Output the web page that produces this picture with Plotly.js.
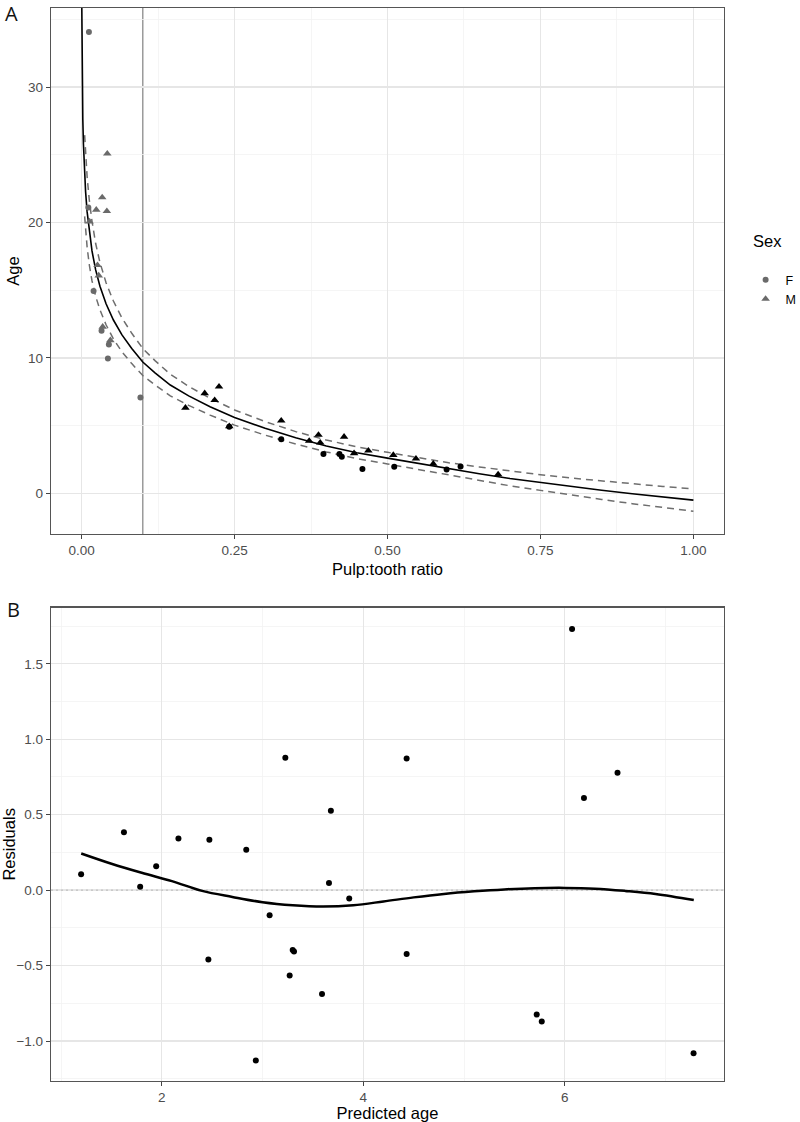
<!DOCTYPE html>
<html><head><meta charset="utf-8">
<script src="https://cdn.plot.ly/plotly-3.0.1.min.js"></script>
<style>html,body{margin:0;padding:0;background:#fff}#chart{width:800px;height:1122px}</style>
</head><body><div id="chart"></div>
<script>
// ---------- Panel A: observed data ----------
const femaleRatio = [0.012, 0.011, 0.0196, 0.0326, 0.0446, 0.043, 0.0962, 0.2414, 0.3263, 0.3953, 0.4214, 0.4253, 0.459, 0.511, 0.5966, 0.6194];
const femaleAge   = [34.07, 21.1, 14.95, 12.0, 11.0, 9.95, 7.07, 4.92, 3.99, 2.9, 2.9, 2.71, 1.8, 1.97, 1.77, 1.99];
const maleRatio = [0.042, 0.0337, 0.024, 0.0413, 0.013, 0.026, 0.028, 0.0345, 0.047, 0.1697, 0.2012, 0.2246, 0.2175, 0.2414, 0.3263, 0.372, 0.3872, 0.39, 0.429, 0.4454, 0.4687, 0.5095, 0.5465, 0.5748, 0.6808];
const maleAge   = [25.08, 21.85, 20.94, 20.84, 20.07, 16.85, 16.08, 12.3, 11.3, 6.32, 7.39, 7.88, 6.88, 4.95, 5.37, 3.87, 4.31, 3.74, 4.18, 2.96, 3.15, 2.83, 2.56, 2.18, 1.4];
const ratioCutoff = 0.1;

// fitted curve
const fitRatio = [0.0003, 0.0006, 0.001, 0.0015, 0.002, 0.003, 0.0045, 0.0065, 0.009, 0.0125, 0.017, 0.023, 0.03, 0.04, 0.052, 0.066, 0.082, 0.1, 0.12, 0.145, 0.175, 0.21, 0.25, 0.3, 0.35, 0.4, 0.45, 0.5, 0.55, 0.6, 0.65, 0.7, 0.75, 0.8, 0.85, 0.9, 0.95, 1.0];
const fitAge   = [36.2, 33.0, 30.7, 28.9, 27.6, 25.8, 23.9, 22.3, 20.8, 19.3, 17.9, 16.5, 15.3, 14.0, 12.8, 11.7, 10.7, 9.7, 8.9, 8.0, 7.2, 6.4, 5.6, 4.8, 4.1, 3.5, 3.0, 2.6, 2.2, 1.8, 1.45, 1.1, 0.8, 0.5, 0.23, -0.03, -0.27, -0.5];

// confidence band
const ciRatio = [0.005, 0.0065, 0.009, 0.0125, 0.017, 0.023, 0.03, 0.04, 0.052, 0.066, 0.082, 0.1, 0.12, 0.145, 0.175, 0.21, 0.25, 0.3, 0.35, 0.4, 0.45, 0.5, 0.55, 0.6, 0.65, 0.7, 0.75, 0.8, 0.85, 0.9, 0.95, 1.0];
const ciUpper = [26.45, 25.15, 23.4, 21.7, 20.1, 18.45, 17.05, 15.55, 14.2, 12.95, 11.82, 10.7, 9.8, 8.8, 7.9, 7.02, 6.16, 5.3, 4.56, 3.94, 3.43, 3.03, 2.64, 2.26, 1.95, 1.64, 1.38, 1.13, 0.91, 0.70, 0.51, 0.32];
const ciLower = [20.45, 19.45, 18.2, 16.9, 15.7, 14.55, 13.55, 12.45, 11.4, 10.45, 9.58, 8.7, 8.0, 7.2, 6.5, 5.78, 5.04, 4.3, 3.64, 3.06, 2.57, 2.17, 1.76, 1.34, 0.95, 0.56, 0.22, -0.13, -0.45, -0.76, -1.05, -1.32];

// ---------- Panel B: residuals ----------
const predictedAge = [1.199, 1.624, 1.785, 1.944, 2.165, 2.462, 2.472, 2.838, 2.933, 3.07, 3.226, 3.269, 3.299, 3.312, 3.59, 3.659, 3.678, 3.86, 4.43, 4.43, 5.721, 5.771, 6.072, 6.19, 6.523, 7.278];
const residuals    = [0.106, 0.383, 0.022, 0.159, 0.343, -0.46, 0.334, 0.267, -1.129, -0.166, 0.877, -0.566, -0.396, -0.407, -0.688, 0.048, 0.526, -0.055, 0.873, -0.424, -0.825, -0.871, 1.731, 0.61, 0.778, -1.081];
const smoothPred  = [1.2, 1.5, 1.8, 2.1, 2.4, 2.7, 3.0, 3.3, 3.6, 3.9, 4.2, 4.5, 4.8, 5.1, 5.4, 5.7, 6.0, 6.3, 6.6, 6.9, 7.28];
const smoothResid = [0.243, 0.175, 0.115, 0.06, -0.005, -0.045, -0.08, -0.1, -0.108, -0.1, -0.075, -0.048, -0.025, -0.008, 0.005, 0.013, 0.015, 0.01, -0.005, -0.025, -0.066];
const residualRef = 0;

// axis ranges (ggplot-style 5% expansion)
const rangeRatio = [-0.05, 1.05], rangeAge = [-3.0, 35.84];
const rangePred = [0.9, 7.58], rangeResid = [-1.265, 1.872];

const GREY = '#6a6a6a', BLACK = '#000000';
const FONT = 'Liberation Sans, Arial, sans-serif';
const colorFor = r => r.map(v => v < ratioCutoff ? GREY : BLACK);

const traces = [
  {x: ciRatio, y: ciUpper, type: 'scatter', mode: 'lines', line: {color: '#6e6e6e', width: 1.5, dash: '7px,5px'}, showlegend: false, xaxis: 'x', yaxis: 'y', hoverinfo: 'skip'},
  {x: ciRatio, y: ciLower, type: 'scatter', mode: 'lines', line: {color: '#6e6e6e', width: 1.5, dash: '7px,5px'}, showlegend: false, xaxis: 'x', yaxis: 'y', hoverinfo: 'skip'},
  {x: fitRatio, y: fitAge, type: 'scatter', mode: 'lines', line: {color: '#000', width: 1.6}, showlegend: false, xaxis: 'x', yaxis: 'y'},
  {x: femaleRatio, y: femaleAge, name: 'F', type: 'scatter', mode: 'markers',
   marker: {symbol: 'circle', size: 6, color: colorFor(femaleRatio)}, xaxis: 'x', yaxis: 'y'},
  {x: maleRatio, y: maleAge, name: 'M', type: 'scatter', mode: 'markers',
   marker: {symbol: 'triangle-up', size: 7.5, color: colorFor(maleRatio)}, xaxis: 'x', yaxis: 'y'},
  {x: rangePred, y: rangePred.map(() => residualRef), type: 'scatter', mode: 'lines', line: {color: '#b8b8b8', width: 1, dash: '2px,3px'}, showlegend: false, xaxis: 'x2', yaxis: 'y2', hoverinfo: 'skip'},
  {x: predictedAge, y: residuals, type: 'scatter', mode: 'markers', marker: {color: '#000', size: 6}, showlegend: false, xaxis: 'x2', yaxis: 'y2'},
  {x: smoothPred, y: smoothResid, type: 'scatter', mode: 'lines', line: {color: '#000', width: 2.5, shape: 'spline'}, showlegend: false, xaxis: 'x2', yaxis: 'y2'}
];

const gridMajor = '#e6e6e6', gridMinor = '#f2f2f2';
const axisCommon = {
  showline: true, mirror: true, linecolor: '#555', linewidth: 1.2,
  ticks: 'outside', ticklen: 4, tickwidth: 1, tickcolor: '#444',
  tickfont: {family: FONT, size: 13.5, color: '#4d4d4d'},
  showgrid: true, gridcolor: gridMajor, gridwidth: 1.3, zeroline: false
};
const titleFont = {family: FONT, size: 16.5, color: '#000'};

const layout = {
  width: 800, height: 1122,
  margin: {l: 51, r: 76, t: 8, b: 41},
  paper_bgcolor: '#fff', plot_bgcolor: '#fff',
  font: {family: FONT},
  xaxis: Object.assign({}, axisCommon, {
    domain: [0, 1], anchor: 'y', range: rangeRatio, tickvals: [0, 0.25, 0.5, 0.75, 1], tickformat: '.2f',
    minor: {dtick: 0.125, tick0: 0, showgrid: true, gridcolor: gridMinor, gridwidth: 0.8},
    title: {text: 'Pulp:tooth ratio', font: titleFont, standoff: 6}
  }),
  yaxis: Object.assign({}, axisCommon, {
    domain: [0.5098, 1], anchor: 'x', range: rangeAge, tickvals: [0, 10, 20, 30],
    minor: {dtick: 5, tick0: 0, showgrid: true, gridcolor: gridMinor, gridwidth: 0.8},
    title: {text: 'Age', font: titleFont, standoff: 4}
  }),
  xaxis2: Object.assign({}, axisCommon, {
    domain: [0, 1], anchor: 'y2', range: rangePred, tickvals: [2, 4, 6],
    minor: {dtick: 1, tick0: 0, showgrid: true, gridcolor: gridMinor, gridwidth: 0.8},
    title: {text: 'Predicted age', font: titleFont, standoff: 4}
  }),
  yaxis2: Object.assign({}, axisCommon, {
    domain: [0, 0.4411], anchor: 'x2', range: rangeResid, tickvals: [-1, -0.5, 0, 0.5, 1, 1.5], tickformat: '.1f',
    minor: {dtick: 0.25, tick0: 0, showgrid: true, gridcolor: gridMinor, gridwidth: 0.8},
    title: {text: 'Residuals', font: titleFont, standoff: 4}
  }),
  showlegend: true,
  legend: {
    xref: 'container', yref: 'container',
    x: 0.932, xanchor: 'left', y: 0.7638, yanchor: 'top',
    font: {family: FONT, size: 12.5, color: '#000'},
    bgcolor: 'rgba(0,0,0,0)', tracegroupgap: 0
  },
  shapes: [
    {type: 'line', layer: 'below', xref: 'x', yref: 'y', x0: ratioCutoff, x1: ratioCutoff, y0: rangeAge[0], y1: rangeAge[1], line: {color: '#9a9a9a', width: 1.5}}
  ],
  annotations: [
    {text: 'Sex', xref: 'paper', yref: 'paper', x: 1.040, y: 0.7831, xanchor: 'left', yanchor: 'middle', showarrow: false, font: {family: FONT, size: 16.5, color: '#000'}},
    {text: 'A', xref: 'paper', yref: 'paper', x: -0.058, y: 0.995, xanchor: 'center', yanchor: 'middle', showarrow: false, font: {family: 'Open Sans, Noto Sans, sans-serif', size: 20, color: '#111'}},
    {text: 'B', xref: 'paper', yref: 'paper', x: -0.056, y: 0.439, xanchor: 'center', yanchor: 'middle', showarrow: false, font: {family: 'Open Sans, Noto Sans, sans-serif', size: 20, color: '#111'}}
  ]
};

Plotly.newPlot('chart', traces, layout, {displayModeBar: false, staticPlot: true});
</script>
</body></html>
